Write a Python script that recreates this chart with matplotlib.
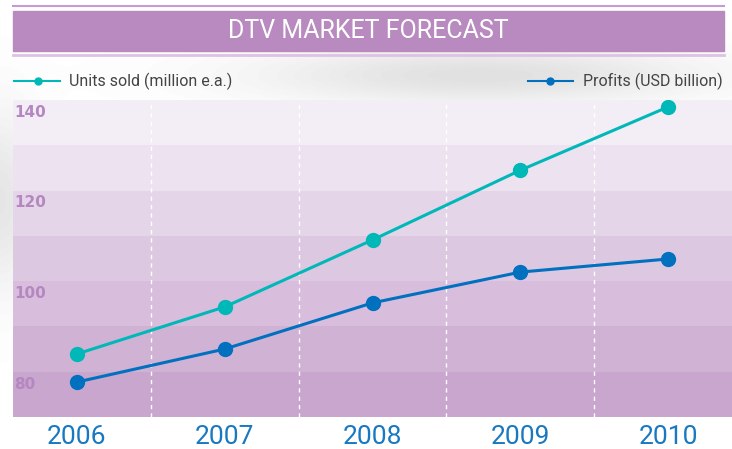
import matplotlib
matplotlib.use('Agg')
import matplotlib.pyplot as plt
import numpy as np
from matplotlib.patches import Rectangle
from matplotlib.lines import Line2D
import matplotlib.transforms as mtransforms

years = ['2006', '2007', '2008', '2009', '2010']
units_sold = [83.9, 94.3, 109.1, 124.5, 138.5]
profits = [77.7, 85.0, 95.2, 102.0, 104.9]
y_labels = [80, 100, 120, 140]
band_edges = [70, 80, 90, 100, 110, 120, 130, 140]
band_colors = ['#c9a6cd', '#d0b2d5', '#d8bddd', '#ddc8e2', '#e4d5e9', '#ede2ef', '#f3edf5']

teal = '#00b8b8'
blue = '#0070bf'
purple = '#b88abf'

W, H = 732, 449
fig = plt.figure(figsize=(W / 100, H / 100), dpi=100)
fig.patch.set_facecolor('white')

# soft grey shading in the background
bg = fig.add_axes([0, 0, 1, 1], zorder=-1)
yy, xx = np.mgrid[0:H, 0:W]
shade = 0.12 * np.exp(-(((xx - 480) / 220) ** 2 + ((yy - 75) / 30) ** 2))
shade += 0.10 * np.exp(-(((xx - 0) / 40) ** 2 + ((yy - 200) / 90) ** 2))
bg.imshow(1 - shade, cmap='gray', vmin=0, vmax=1, aspect='auto')
bg.axis('off')

# banner
fig.patches.append(Rectangle((13 / W, 1 - 51 / H), (724 - 13) / W, 40 / H,
                             transform=fig.transFigure, color=purple, zorder=1))
fig.add_artist(Line2D([13 / W, 724 / W], [1 - 6 / H, 1 - 6 / H], color='#c89ad2', lw=1.5))
fig.add_artist(Line2D([13 / W, 724 / W], [1 - 55 / H, 1 - 55 / H], color='#dcc3e2', lw=2))
fig.text(368 / W, 1 - 31 / H, 'DTV MARKET FORECAST', color='white', fontsize=18,
         family='Roboto', ha='center', va='center')

# legend
ly = 1 - 81 / H
fig.add_artist(Line2D([14 / W, 60 / W], [ly, ly], color=teal, lw=1.5))
fig.add_artist(Line2D([38 / W], [ly], color=teal, marker='o', markersize=5))
fig.text(69 / W, ly, 'Units sold (million e.a.)', color='#444444', fontsize=11.5,
         family='Roboto', ha='left', va='center')
fig.add_artist(Line2D([528 / W, 573 / W], [ly, ly], color=blue, lw=1.5))
fig.add_artist(Line2D([550 / W], [ly], color=blue, marker='o', markersize=5))
fig.text(583 / W, ly, 'Profits (USD billion)', color='#444444', fontsize=11.5,
         family='Roboto', ha='left', va='center')

ax = fig.add_axes([13 / W, 1 - 417 / H, 1 - 13 / W, (417 - 100) / H])
x = list(range(len(years)))
ax.set_xlim(-0.43, 4.43)
ax.set_ylim(band_edges[0], band_edges[-1])

for lo, hi, c in zip(band_edges[:-1], band_edges[1:], band_colors):
    ax.axhspan(lo, hi, color=c, lw=0, zorder=0)

for xv in [0.5, 1.5, 2.5, 3.5]:
    ax.axvline(xv, color='white', lw=1, linestyle=(0, (3, 3)), zorder=1)

ax.plot(x, units_sold, color=teal, lw=2.2, marker='o', markersize=10, zorder=3)
ax.plot(x, profits, color=blue, lw=2.2, marker='o', markersize=10, zorder=3)

trans = mtransforms.blended_transform_factory(ax.transAxes, ax.transData)
trans = trans + mtransforms.ScaledTranslation(0, -3.5 / 72, fig.dpi_scale_trans)
for v in y_labels:
    ax.text(0.002, v, str(v), transform=trans, color='#b587c0', fontsize=11,
            fontweight='bold', ha='left', va='top', zorder=2)

ax.set_xticks(x)
ax.set_xticklabels(years, color='#1878c0', fontsize=19, family='Roboto')
ax.tick_params(axis='x', length=0, pad=6)
ax.set_yticks([])
for s in ax.spines.values():
    s.set_visible(False)

fig.savefig('out.png', dpi=100)
